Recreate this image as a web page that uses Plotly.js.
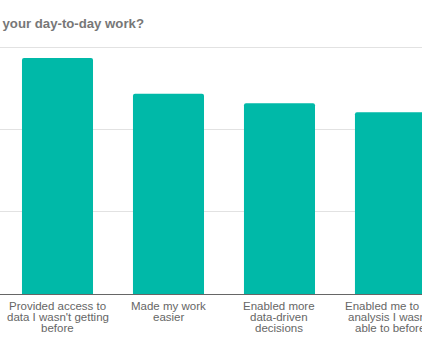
<!DOCTYPE html>
<html>
<head>
<meta charset="utf-8">
<script src="https://cdn.plot.ly/plotly-3.0.1.min.js"></script>
<style>html,body{margin:0;padding:0;background:#fff;}#chart{width:422px;height:352px;}</style>
</head>
<body>
<div id="chart"></div>
<script>
var titleText = "your day-to-day work?";
var categories = [
  "Provided access to<br>data I wasn't getting<br>before",
  "Made my work<br>easier",
  "Enabled more<br>data-driven<br>decisions",
  "Enabled me to do<br>analysis I wasn't<br>able to before"
];
var values = [57.4, 48.7, 46.4, 44.2];

var labelFont = {family: "Liberation Sans, Arial, sans-serif", size: 11.5, color: "#666666"};
var annotations = [];
categories.forEach(function (cat, ci) {
  cat.split("<br>").forEach(function (line, li) {
    annotations.push({
      x: ci, xref: "x", y: 0, yref: "paper",
      text: line, showarrow: false,
      xanchor: "center", yanchor: "middle",
      yshift: -11.6 - li * 11.4,
      font: labelFont
    });
  });
});

var trace = {
  type: "bar",
  x: categories.map(function (c, i) { return i; }),
  y: values,
  marker: {color: "#00B9A8", cornerradius: 2},
  hoverinfo: "none"
};

var layout = {
  width: 422, height: 352,
  margin: {l: 0, r: 0, t: 46, b: 58, pad: 0},
  paper_bgcolor: "#ffffff", plot_bgcolor: "#ffffff",
  showlegend: false,
  bargap: 0.36,
  title: {
    text: "<b>" + titleText + "</b>",
    x: 0.006, xref: "paper", xanchor: "left",
    y: 1 - 23.5 / 352, yref: "container", yanchor: "middle",
    font: {family: "Liberation Sans, Arial, sans-serif", size: 13.2, color: "#777777"}
  },
  xaxis: {
    range: [-0.518, 3.284],
    showticklabels: false, ticks: "",
    showgrid: false, zeroline: false,
    showline: true, linecolor: "#666666", linewidth: 1.2
  },
  yaxis: {
    range: [0, 60.3], dtick: 20, tick0: 0,
    showticklabels: false, ticks: "",
    showgrid: true, gridcolor: "#e2e2e2", gridwidth: 1.3,
    zeroline: false, showline: false
  },
  annotations: annotations
};

Plotly.newPlot("chart", [trace], layout, {staticPlot: true, displayModeBar: false});
</script>
</body>
</html>
